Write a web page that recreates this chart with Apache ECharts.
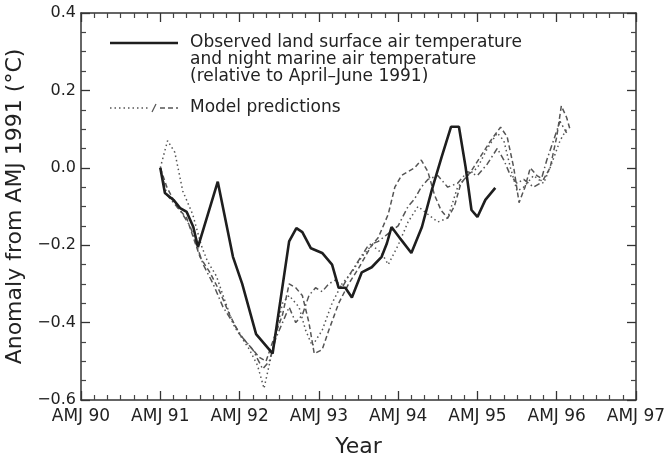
<!DOCTYPE html>
<html>
<head>
<meta charset="utf-8">
<script src="https://cdn.jsdelivr.net/npm/echarts@6/dist/echarts.min.js"></script>
<style>
  html, body { margin: 0; padding: 0; background: #fff; }
  #chart { width: 664px; height: 464px; }
</style>
</head>
<body>
<div id="chart"></div>
<script>
// Months are counted from April–June 1991 (0 = AMJ 91).
const yearTickLabels = ['AMJ 90', 'AMJ 91', 'AMJ 92', 'AMJ 93', 'AMJ 94', 'AMJ 95', 'AMJ 96', 'AMJ 97'];

// Observed land surface + night marine air temperature anomaly (°C)
const obsMonths = [0, 0.7, 2, 3, 4, 5, 5.7, 8.7, 11, 12.4, 14.5, 16.5, 17, 19.5, 20.6, 21.5, 22.8, 24.5, 26, 27, 28, 29, 30.5, 32, 33.5, 34.3, 35, 36.5, 38, 39.6, 41.1, 42.6, 44, 45.2, 46.2, 47.1, 48, 49.2, 50.7];
const obsValues = [0.0, -0.065, -0.083, -0.104, -0.114, -0.153, -0.205, -0.036, -0.23, -0.30, -0.43, -0.47, -0.48, -0.19, -0.156, -0.166, -0.208, -0.22, -0.25, -0.31, -0.31, -0.335, -0.27, -0.257, -0.23, -0.195, -0.153, -0.187, -0.22, -0.153, -0.057, 0.029, 0.106, 0.106, 0.003, -0.109, -0.127, -0.083, -0.052];

// Model prediction runs
const runAMonths = [0, 1.1, 2.2, 3.4, 4.9, 6.2, 7.1, 8.5, 9.7, 11.2, 13.5, 14.7, 15.7, 17, 18.5, 19.5, 21, 22, 23, 24.5, 26, 27.5, 29, 30.5, 32, 33.5, 34.5, 36, 37.5, 39, 40.5, 42, 43.5, 45, 46.5, 48, 49.5, 51, 52, 53, 54, 55, 56.5, 58, 59, 60.5, 61.5];
const runAValues = [0.0, 0.07, 0.04, -0.06, -0.12, -0.2, -0.24, -0.28, -0.34, -0.41, -0.47, -0.51, -0.57, -0.47, -0.35, -0.33, -0.36, -0.42, -0.46, -0.42, -0.35, -0.30, -0.27, -0.23, -0.20, -0.22, -0.25, -0.20, -0.14, -0.10, -0.12, -0.14, -0.13, -0.05, -0.02, 0.0, 0.05, 0.09, 0.07, 0.0, -0.06, -0.05, -0.02, -0.04, 0.0, 0.07, 0.10];

const runBMonths = [0, 1, 2.5, 4, 5, 6, 7.5, 9, 10.5, 12, 13.5, 15, 16, 17, 18.5, 19.5, 20.5, 21.5, 22.5, 23.3, 24.5, 25.5, 27, 28.5, 30, 31, 32, 33, 34.5, 35.5, 36.5, 38.5, 39.5, 40.5, 41.5, 42.5, 43.5, 44.5, 45.5, 47, 48.5, 50, 51.5, 52.5, 53.5, 54.3, 55.2, 56, 57, 58, 59, 60, 60.7, 61.5, 62];
const runBValues = [0.0, -0.05, -0.1, -0.13, -0.18, -0.23, -0.27, -0.32, -0.38, -0.43, -0.46, -0.49, -0.5, -0.45, -0.38, -0.3, -0.31, -0.33, -0.40, -0.48, -0.47, -0.42, -0.35, -0.30, -0.26, -0.23, -0.20, -0.18, -0.12, -0.05, -0.02, 0.0, 0.02, -0.01, -0.07, -0.11, -0.13, -0.10, -0.04, -0.01, 0.03, 0.07, 0.105, 0.08, 0.0, -0.09, -0.05, 0.0, -0.02, -0.03, 0.0, 0.08, 0.16, 0.13, 0.1];

const runCMonths = [0, 1, 2, 3, 4.5, 5.5, 6.5, 8, 9.5, 11, 12.5, 14, 15.5, 16.5, 17.5, 18.5, 19.5, 20.5, 21.5, 22.5, 23.5, 24.5, 25.5, 26.5, 27.5, 28.5, 30, 31.5, 33, 34.5, 36, 37.5, 38.5, 39.5, 40.5, 42, 43.5, 45, 46.5, 48, 49.5, 51, 52, 53, 54, 55, 56.5, 57.5, 58.5, 59.5, 60.5, 61.5];
const runCValues = [0.0, -0.07, -0.09, -0.11, -0.15, -0.2, -0.25, -0.30, -0.36, -0.40, -0.44, -0.47, -0.52, -0.50, -0.44, -0.40, -0.36, -0.40, -0.38, -0.33, -0.31, -0.32, -0.30, -0.29, -0.31, -0.28, -0.24, -0.20, -0.19, -0.17, -0.15, -0.10, -0.08, -0.05, -0.03, -0.02, -0.05, -0.04, -0.01, -0.02, 0.01, 0.05, 0.02, -0.02, -0.04, -0.03, -0.05, -0.04, 0.02, 0.07, 0.12, 0.09];

const legendObserved = ['Observed land surface air temperature', 'and night marine air temperature', '(relative to April–June 1991)'];
const legendModel = 'Model predictions';

const zip = (xs, ys) => xs.map((x, i) => [x, ys[i]]);

const FONT = '"DejaVu Sans", "Liberation Sans", sans-serif';
const INK = '#222';

function fmtY(v) {
  const r = Math.round(v * 10) / 10;
  if (Math.abs(r) < 1e-9) return '0.0';
  return (r < 0 ? '\u2212' : '') + Math.abs(r).toFixed(1);
}

const xCommon = {
  type: 'value', min: -12, max: 72, interval: 12,
  axisLine: { show: true, onZero: false, lineStyle: { color: '#333', width: 1.5 } },
  axisTick: { show: true, inside: true, length: 9, lineStyle: { color: '#333', width: 1.3 } },
  minorTick: { show: true, splitNumber: 6, length: 5, lineStyle: { color: '#444', width: 1.2 } },
  splitLine: { show: false }
};
const yCommon = {
  type: 'value', min: -0.6, max: 0.4, interval: 0.2,
  axisLine: { show: true, onZero: false, lineStyle: { color: '#333', width: 1.5 } },
  axisTick: { show: true, inside: true, length: 9, lineStyle: { color: '#333', width: 1.3 } },
  minorTick: { show: true, splitNumber: 4, length: 5, lineStyle: { color: '#444', width: 1.2 } },
  splitLine: { show: false }
};

const chart = echarts.init(document.getElementById('chart'), null, { renderer: 'canvas' });

const legendX1 = 110, legendX2 = 178, textX = 190;
const legendFont = '17px ' + FONT;

chart.setOption({
  animation: false,
  backgroundColor: '#fff',
  grid: { left: 81, right: 28, top: 13, bottom: 64, containLabel: false, outerBoundsMode: 'none' },
  xAxis: [
    Object.assign({}, xCommon, {
      position: 'bottom',
      name: 'Year', nameLocation: 'middle', nameGap: 36,
      nameTextStyle: { fontFamily: FONT, fontSize: 22, color: INK, verticalAlign: 'top' },
      axisLabel: {
        show: true, margin: 8, fontFamily: FONT, fontSize: 17, color: INK,
        showMinLabel: true, showMaxLabel: true,
        formatter: v => yearTickLabels[Math.round((v + 12) / 12)] || ''
      }
    }),
    Object.assign({}, xCommon, { position: 'top', axisLabel: { show: false } })
  ],
  yAxis: [
    Object.assign({}, yCommon, {
      position: 'left',
      name: 'Anomaly from AMJ 1991 (°C)', nameLocation: 'middle', nameGap: 50,
      nameTextStyle: { fontFamily: FONT, fontSize: 22, color: INK },
      axisLabel: { show: true, margin: 5, fontFamily: FONT, fontSize: 16, color: INK, formatter: fmtY }
    }),
    Object.assign({}, yCommon, { position: 'right', axisLabel: { show: false } })
  ],
  series: [
    {
      name: 'Model run A', type: 'line', data: zip(runAMonths, runAValues),
      showSymbol: false, symbol: 'none',
      lineStyle: { color: '#555', width: 1.5, type: [1.5, 3] }
    },
    {
      name: 'Model run B', type: 'line', data: zip(runBMonths, runBValues),
      showSymbol: false, symbol: 'none',
      lineStyle: { color: '#555', width: 1.5, type: [5, 3] }
    },
    {
      name: 'Model run C', type: 'line', data: zip(runCMonths, runCValues),
      showSymbol: false, symbol: 'none',
      lineStyle: { color: '#555', width: 1.5, type: [6, 3, 1.5, 3] }
    },
    {
      name: 'Observed', type: 'line', data: zip(obsMonths, obsValues),
      showSymbol: false, symbol: 'none', z: 5,
      lineStyle: { color: '#1e1e1e', width: 2.6 }
    }
  ],
  graphic: [
    { type: 'line', shape: { x1: legendX1, y1: 43, x2: legendX2, y2: 43 }, style: { stroke: '#1e1e1e', lineWidth: 2.6 } },
    { type: 'text', x: textX, y: 43, style: { text: legendObserved[0], font: legendFont, fill: INK, verticalAlign: 'middle' } },
    { type: 'text', x: textX, y: 60, style: { text: legendObserved[1], font: legendFont, fill: INK, verticalAlign: 'middle' } },
    { type: 'text', x: textX, y: 77, style: { text: legendObserved[2], font: legendFont, fill: INK, verticalAlign: 'middle' } },
    { type: 'line', shape: { x1: legendX1, y1: 108, x2: 149, y2: 108 }, style: { stroke: '#555', lineWidth: 1.5, lineDash: [1.5, 3] } },
    { type: 'line', shape: { x1: 152, y1: 112, x2: 156, y2: 104 }, style: { stroke: '#555', lineWidth: 1.3 } },
    { type: 'line', shape: { x1: 160, y1: 108, x2: legendX2, y2: 108 }, style: { stroke: '#555', lineWidth: 1.5, lineDash: [5, 3] } },
    { type: 'text', x: textX, y: 108, style: { text: legendModel, font: legendFont, fill: INK, verticalAlign: 'middle' } }
  ]
});
</script>
</body>
</html>
